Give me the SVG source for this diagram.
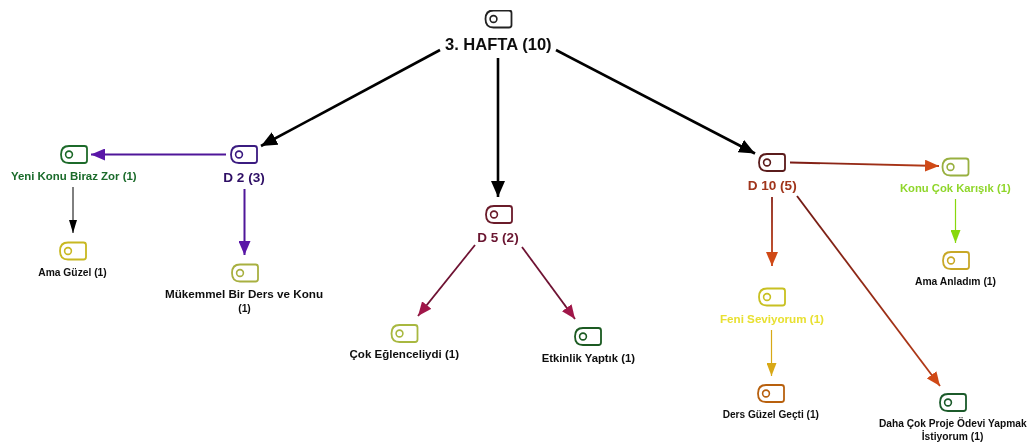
<svg xmlns="http://www.w3.org/2000/svg" width="1032" height="444" viewBox="0 0 1032 444">
<style>
text{font-family:"Liberation Sans",Arial,sans-serif;font-weight:700;text-anchor:middle;fill:#111}
.s{font-size:10.3px}.m{font-size:11px}.l{font-size:13px}.xl{font-size:16.500px}
.c{fill:none}
</style>
<defs>
<filter id="soft" x="0" y="0" width="100%" height="100%"><feGaussianBlur stdDeviation="0.3"/></filter>
<symbol id="ic" viewBox="0 0 28 19" width="28" height="19" overflow="visible">
<path d="M9 1H24.500Q27 1 27 3.500V15.500Q27 18 24.500 18H9Q1 18 1 9.500Q1 1 9 1Z" fill="#fff" stroke="currentColor" stroke-width="1.800"/>
<circle cx="9" cy="9.500" r="3.400" fill="none" stroke="currentColor" stroke-width="1.600"/>
</symbol>
<linearGradient id="g1" gradientUnits="userSpaceOnUse" x1="790" y1="162" x2="939" y2="166"><stop offset="0" stop-color="#7a1c14"/><stop offset="1" stop-color="#b83c18"/></linearGradient>
<linearGradient id="g2" gradientUnits="userSpaceOnUse" x1="772" y1="197" x2="772" y2="266"><stop offset="0" stop-color="#8a2414"/><stop offset="1" stop-color="#c4421a"/></linearGradient>
<linearGradient id="g3" gradientUnits="userSpaceOnUse" x1="797" y1="196" x2="940" y2="386"><stop offset="0" stop-color="#701a14"/><stop offset="1" stop-color="#b83c18"/></linearGradient>
<marker id="aK" markerUnits="userSpaceOnUse" markerWidth="18" markerHeight="14" refX="16" refY="7" orient="auto"><path d="M0 0L16 7L0 14Z" fill="#000"/></marker>
<marker id="ak" markerUnits="userSpaceOnUse" markerWidth="14" markerHeight="10" refX="13" refY="5" orient="auto"><path d="M0 1L13 5L0 9Z" fill="#000"/></marker>
<marker id="aP" markerUnits="userSpaceOnUse" markerWidth="15" markerHeight="12" refX="14" refY="6" orient="auto"><path d="M0 0L14 6L0 12Z" fill="#5a14a8"/></marker>
<marker id="aC" markerUnits="userSpaceOnUse" markerWidth="15" markerHeight="12" refX="14" refY="6" orient="auto"><path d="M0 0L14 6L0 12Z" fill="#a01648"/></marker>
<marker id="aR" markerUnits="userSpaceOnUse" markerWidth="15" markerHeight="12" refX="14" refY="6" orient="auto"><path d="M0 0L14 6L0 12Z" fill="#d04a18"/></marker>
<marker id="aL" markerUnits="userSpaceOnUse" markerWidth="14" markerHeight="10" refX="13" refY="5" orient="auto"><path d="M0 0L13 5L0 10Z" fill="#88d810"/></marker>
<marker id="aG" markerUnits="userSpaceOnUse" markerWidth="14" markerHeight="10" refX="13" refY="5" orient="auto"><path d="M0 0L13 5L0 10Z" fill="#d8a818"/></marker>
</defs>
<rect width="1032" height="444" fill="#fff"/>
<g filter="url(#soft)">
<g id="connectors" class="c">
<path d="M440 50L261 146" stroke="#000" stroke-width="2.600" marker-end="url(#aK)"/>
<path d="M498 58V197" stroke="#000" stroke-width="2.600" marker-end="url(#aK)"/>
<path d="M556 50L755 153.500" stroke="#000" stroke-width="2.600" marker-end="url(#aK)"/>
<path d="M226 154.500H91" stroke="#4f1699" stroke-width="2" marker-end="url(#aP)"/>
<path d="M244.500 189V255" stroke="#4f1699" stroke-width="2" marker-end="url(#aP)"/>
<path d="M73 187V233" stroke="#000" stroke-width="1" marker-end="url(#ak)"/>
<path d="M475 245L418 316" stroke="#6e1232" stroke-width="1.800" marker-end="url(#aC)"/>
<path d="M522 247L575 319" stroke="#6e1232" stroke-width="1.800" marker-end="url(#aC)"/>
<path d="M790 162.500L939 166" stroke="url(#g1)" stroke-width="1.800" marker-end="url(#aR)"/>
<path d="M772 197V266" stroke="url(#g2)" stroke-width="1.800" marker-end="url(#aR)"/>
<path d="M797 196L940 386" stroke="url(#g3)" stroke-width="1.800" marker-end="url(#aR)"/>
<path d="M955.500 199V243" stroke="#88d810" stroke-width="1.200" marker-end="url(#aL)"/>
<path d="M771.500 330V376" stroke="#d8a818" stroke-width="1.200" marker-end="url(#aG)"/>
</g>
<g id="n-hafta"><use href="#ic" x="484.500" y="9.500" color="#222"/><text class="xl" x="498.300" y="49.500" textLength="106.700" lengthAdjust="spacingAndGlyphs">3. HAFTA (10)</text></g>
<g id="n-d2"><use href="#ic" x="230" y="145" color="#3a1a80"/><text class="l" x="244" y="181.500" textLength="41.500" lengthAdjust="spacingAndGlyphs" style="fill:#2e1065">D 2 (3)</text></g>
<g id="n-yeni"><use href="#ic" x="60" y="145" color="#1f6a2a"/><text class="m" x="73.800" y="180" textLength="125.700" lengthAdjust="spacingAndGlyphs" style="fill:#1a6b2a">Yeni Konu Biraz Zor (1)</text></g>
<g id="n-amaguzel"><use href="#ic" x="59" y="241.500" color="#c8b820"/><text class="s" x="72.500" y="275.500" textLength="68.500" lengthAdjust="spacingAndGlyphs">Ama Güzel (1)</text></g>
<g id="n-mukemmel"><use href="#ic" x="231" y="263.500" color="#a8b040"/><text class="s" x="244" y="298" textLength="158" lengthAdjust="spacingAndGlyphs">Mükemmel Bir Ders ve Konu</text><text class="s" x="244.500" y="312">(1)</text></g>
<g id="n-d5"><use href="#ic" x="485" y="205" color="#6a1a2a"/><text class="l" x="498" y="241.500" textLength="41.300" lengthAdjust="spacingAndGlyphs" style="fill:#6a1530">D 5 (2)</text></g>
<g id="n-cok"><use href="#ic" x="390.500" y="324" color="#a8b840"/><text class="s" x="404.300" y="358" textLength="109.500" lengthAdjust="spacingAndGlyphs">Çok Eğlenceliydi (1)</text></g>
<g id="n-etkinlik"><use href="#ic" x="574" y="327" color="#1a5a20"/><text class="s" x="588.300" y="362" textLength="93.300" lengthAdjust="spacingAndGlyphs">Etkinlik Yaptık (1)</text></g>
<g id="n-d10"><use href="#ic" x="758" y="153" color="#5a1a1a"/><text class="l" x="772.200" y="190" textLength="49" lengthAdjust="spacingAndGlyphs" style="fill:#a0341a">D 10 (5)</text></g>
<g id="n-konu"><use href="#ic" x="941.500" y="157.500" color="#98b040"/><text class="m" x="955.300" y="192" textLength="110.700" lengthAdjust="spacingAndGlyphs" style="fill:#8fd62a">Konu Çok Karışık (1)</text></g>
<g id="n-amaanladim"><use href="#ic" x="942" y="251" color="#c8a828"/><text class="s" x="955.500" y="285" textLength="81" lengthAdjust="spacingAndGlyphs">Ama Anladım (1)</text></g>
<g id="n-feni"><use href="#ic" x="758" y="287.500" color="#c8c020"/><text class="m" x="772" y="322.500" textLength="104" lengthAdjust="spacingAndGlyphs" style="fill:#e8e030">Feni Seviyorum (1)</text></g>
<g id="n-ders"><use href="#ic" x="757" y="384" color="#b86010"/><text class="s" x="770.800" y="418" textLength="96.300" lengthAdjust="spacingAndGlyphs">Ders Güzel Geçti (1)</text></g>
<g id="n-daha"><use href="#ic" x="939" y="393" color="#1a5a2a"/><text class="s" x="952.800" y="426.500" textLength="147.700" lengthAdjust="spacingAndGlyphs">Daha Çok Proje Ödevi Yapmak</text><text class="s" x="952.500" y="440" textLength="61.700" lengthAdjust="spacingAndGlyphs">İstiyorum (1)</text></g>
</g>
</svg>
